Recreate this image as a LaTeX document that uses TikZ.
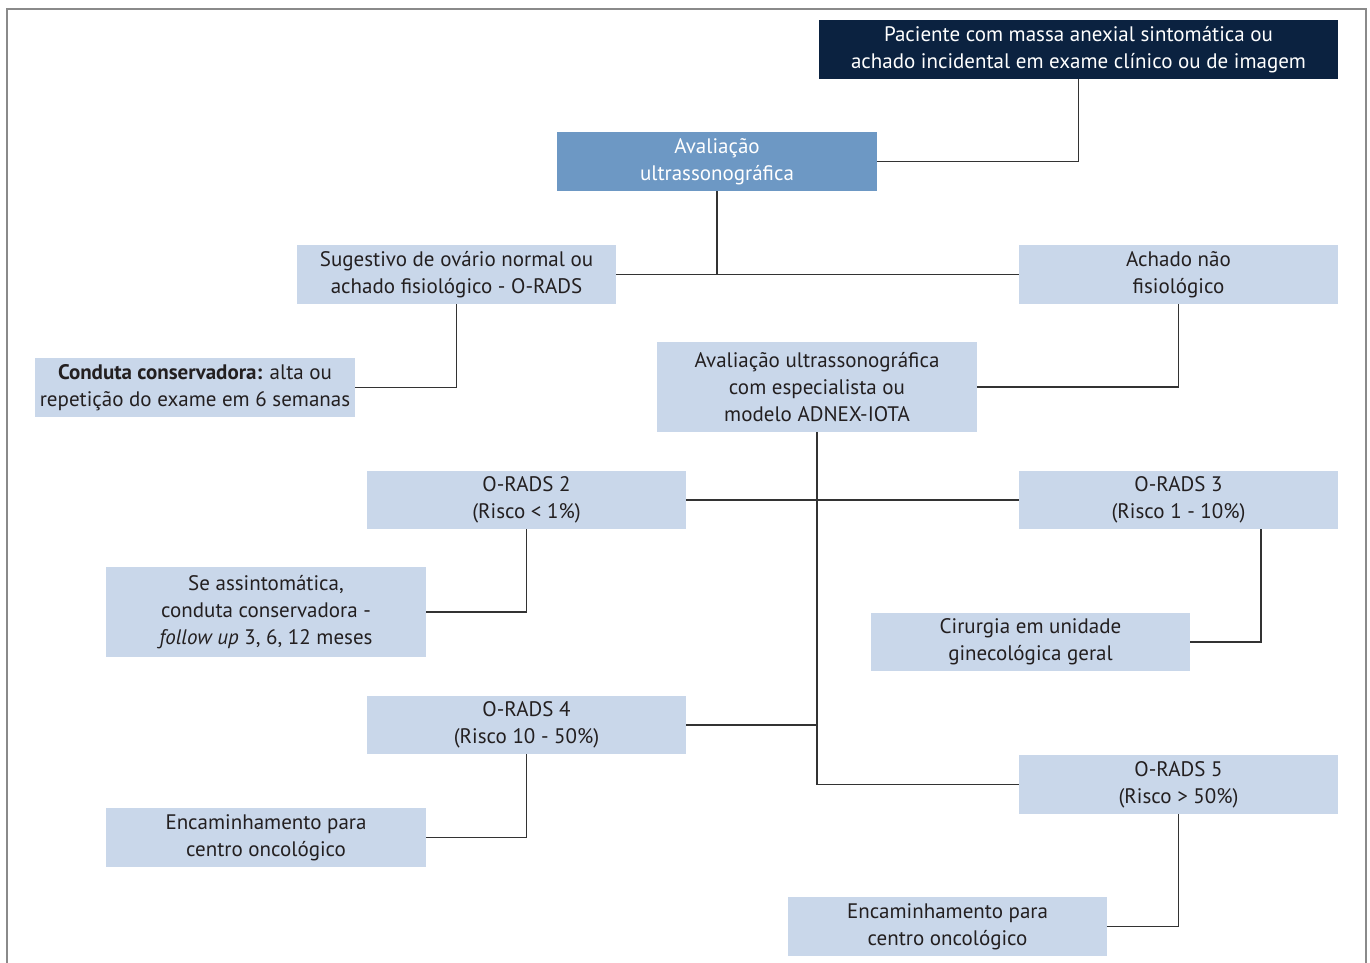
\documentclass[tikz,border=0pt]{standalone}
\usepackage{fontspec}
\setmainfont{PT Sans}
\definecolor{navy}{HTML}{0B2240}
\definecolor{midblue}{HTML}{6D98C4}
\definecolor{lightblue}{HTML}{C9D7EA}
\definecolor{txt}{HTML}{231F20}
\definecolor{lin}{HTML}{333333}
\definecolor{frame}{HTML}{8A8A8A}
\begin{document}
\begin{tikzpicture}[x=1pt,y=-1pt,
  box/.style={fill=lightblue,text=txt,inner sep=0pt,align=center,
    minimum width=320pt,minimum height=59pt,
    font=\fontsize{21}{26.8}\selectfont},
  darkbox/.style={box,fill=navy,text=white},
  midbox/.style={box,fill=midblue,text=white},
  conn/.style={draw=lin,line width=1.5pt}]
\useasboundingbox (0,0) rectangle (1370,962);
\fill[white] (0,0) rectangle (1370,962);
\draw[frame,line width=2pt] (7,963) -- (7,9) -- (1366,9) -- (1366,963);

\node[darkbox,minimum width=519pt] (top) at (1078.5,49.5) {Paciente com massa anexial sintomática ou\\achado incidental em exame clínico ou de imagem};
\node[midbox] (av) at (717,161.5) {Avaliação\\ultrassonográfica};
\node[box,minimum width=319pt] (sug) at (456.5,274.5) {Sugestivo de ovário normal ou\\achado fisiológico - O-RADS};
\node[box,minimum width=319pt] (ach) at (1178.5,274.5) {Achado não\\fisiológico};
\node[box] (cond) at (195,387.5) {\textbf{Conduta conservadora:} alta ou\\repetição do exame em 6 semanas};
\node[box,minimum height=90pt] (esp) at (817,387) {Avaliação ultrassonográfica\\com especialista ou\\modelo ADNEX-IOTA};
\node[box,minimum width=319pt,minimum height=58pt] (o2) at (526.5,500) {O-RADS 2\\(Risco < 1\%)};
\node[box,minimum width=319pt,minimum height=58pt] (o3) at (1178.5,500) {O-RADS 3\\(Risco 1 - 10\%)};
\node[box,minimum height=90pt] (se) at (266,612) {Se assintomática,\\conduta conservadora -\\\textit{follow up} 3, 6, 12 meses};
\node[box,minimum width=319pt,minimum height=58pt] (cir) at (1030.5,642) {Cirurgia em unidade\\ginecológica geral};
\node[box,minimum width=319pt,minimum height=58pt] (o4) at (526.5,725) {O-RADS 4\\(Risco 10 - 50\%)};
\node[box,minimum width=319pt] (o5) at (1178.5,784.5) {O-RADS 5\\(Risco > 50\%)};
\node[box] (enc1) at (266,837.5) {Encaminhamento para\\centro oncológico};
\node[box,minimum width=319pt] (enc2) at (947.5,926.5) {Encaminhamento para\\centro oncológico};

\coordinate (o3b) at ([xshift=82.5pt]o3.south);
\draw[conn] (top.south) |- (av.east);
\draw[conn] (av.south) -- (av.south |- sug.east);
\draw[conn] (sug.east) -- (ach.west);
\draw[conn] (sug.south) |- (cond.east);
\draw[conn] (ach.south) |- (esp.east);
\draw[conn] (esp.south) |- (o5.west);
\draw[conn] (o2.east) -- (o3.west);
\draw[conn] (o4.east) -- (o4.east -| esp.south);
\draw[conn] (o2.south) |- (se.east);
\draw[conn] (o3b) |- (cir.east);
\draw[conn] (o4.south) |- (enc1.east);
\draw[conn] (o5.south) |- (enc2.east);
\end{tikzpicture}
\end{document}
